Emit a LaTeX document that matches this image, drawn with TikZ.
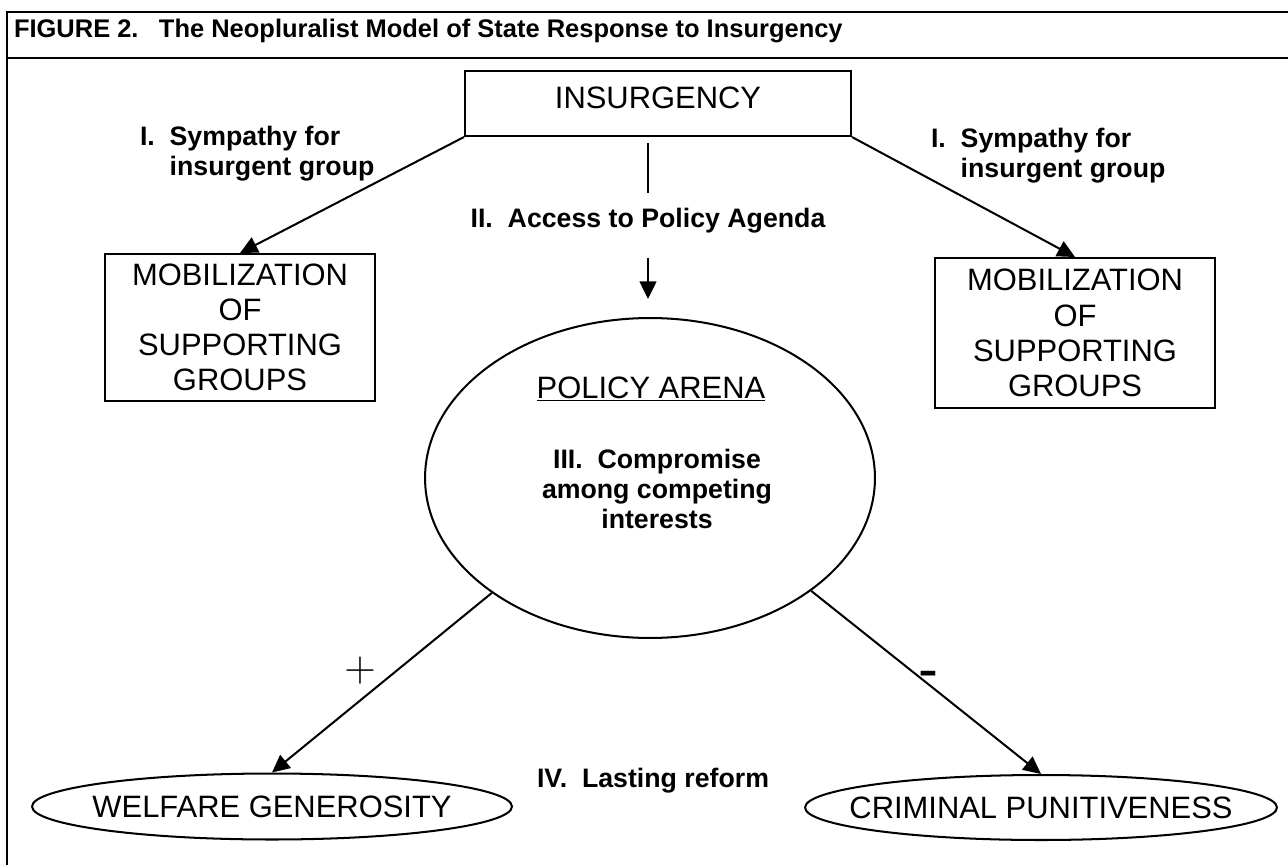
\documentclass[tikz,border=0pt]{standalone}
\usepackage{fontspec}
\setmainfont{Liberation Sans}
\usetikzlibrary{arrows.meta,shapes.geometric}

\begin{document}
\begin{tikzpicture}[x=0.02cm,y=-0.02cm,line width=1.15pt,
  arr/.style={-{Triangle[length=10pt,width=9.5pt]}},
  box/.style={draw,rectangle,inner sep=0pt},
  oval/.style={draw,ellipse,inner sep=0pt},
  caps/.style={font=\fontsize{17.6}{20}\selectfont,align=center,inner sep=0pt},
  lbl/.style={font=\bfseries\fontsize{15.2}{17}\selectfont,inner sep=0pt}]
\useasboundingbox (0,0) rectangle (1288,865);
%
\draw (7,865) -- (7,12) -- (1288,12);
\draw (7,58) -- (1288,58);
\node[anchor=base west,inner sep=0pt,font=\bfseries\fontsize{14.5}{16}\selectfont] (title) at (13,38)
  {FIGURE 2.\hspace{0.8em}The Neopluralist Model of State Response to Insurgency};
%
\node[box,caps,minimum width=7.72cm,minimum height=1.3cm,text depth=0.24cm] (insurg) at (658,103.5) {INSURGENCY};
\node[box,caps,minimum width=5.4cm,minimum height=2.94cm] (mobL) at (240,327.5) {MOBILIZATION\\OF\\SUPPORTING\\GROUPS};
\node[box,caps,minimum width=5.6cm,minimum height=3cm] (mobR) at (1075,333) {MOBILIZATION\\OF\\SUPPORTING\\GROUPS};
%
\node[lbl,align=left,anchor=north west] (symL) at (139,125.5) {I.~~Sympathy for\\\phantom{I.~~}insurgent group};
\node[lbl,align=left,anchor=north west] (symR) at (930,127.5) {I.~~Sympathy for\\\phantom{I.~~}insurgent group};
\node[lbl] (access) at (648,221) {II.~~Access to Policy Agenda};
%
\node[oval,minimum width=9cm,minimum height=6.4cm] (arena) at (650,478) {};
\node[caps,anchor=base] (arenatitle) at (651,398) {\underline{POLICY ARENA}};
\node[lbl,align=center,anchor=north] (compromise) at (657,448.5) {III.~~Compromise\\among competing\\interests};
%
\node[oval,minimum width=9.6cm,minimum height=1.32cm] (welfare) at (272,806.5) {};
\node[caps] (welfaretxt) at (welfare) {WELFARE GENEROSITY};
\node[oval,minimum width=9.44cm,minimum height=1.3cm] (criminal) at (1041,807.5) {};
\node[caps] (criminaltxt) at (criminal) {CRIMINAL PUNITIVENESS};
\node[lbl,anchor=base] (reform) at (653,787) {IV.~~Lasting reform};
%
\draw[arr] (insurg.south west) -- (mobL.north);
\draw[arr] (insurg.south east) -- (mobR.north);
\draw[shorten <=0.12cm,shorten >=0.28cm] (insurg.south -| access.north) -- (access.north);
\draw[arr,shorten <=0.46cm,shorten >=0.36cm] (access.south) -- (arena.north -| access.south);
\draw[arr] (arena.216) -- (welfare.north);
\draw[arr] (arena.325) -- (criminal.north);
\node[inner sep=0pt,font=\fontsize{26}{26}\selectfont] (plus) at (360,671) {$+$};
\node[inner sep=0pt,font=\fontsize{34}{34}\selectfont] (minus) at (928,680) {-};
\end{tikzpicture}
\end{document}
